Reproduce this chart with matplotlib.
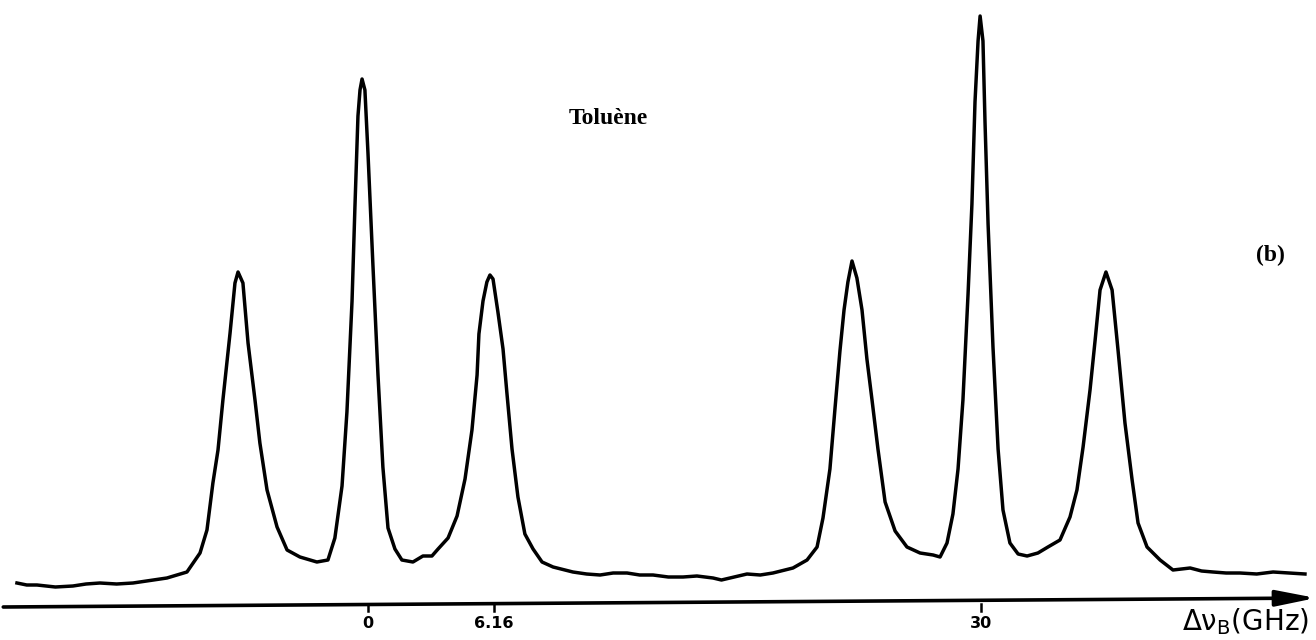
import matplotlib
matplotlib.use('Agg')
import matplotlib.pyplot as plt

# Brillouin spectrum of toluene
freq = [-17.18, -16.70, -16.20, -15.30, -14.44, -13.80, -13.12, -12.30, -11.50,
        -10.52, -9.84, -8.86, -8.22, -7.88, -7.59, -7.34, -7.10, -6.75, -6.51,
        -6.36, -6.12, -5.87, -5.53, -5.29, -4.94, -4.45, -3.96, -3.33, -2.50,
        -1.96, -1.62, -1.27, -1.03, -0.78, -0.64, -0.49, -0.39, -0.29, -0.15,
        0.00, 0.24, 0.49, 0.73, 0.98, 1.32, 1.66, 2.20, 2.69, 3.13, 3.43, 3.92,
        4.36, 4.75, 5.09, 5.34, 5.43, 5.63, 5.82, 5.97, 6.12, 6.36, 6.61, 6.80,
        7.05, 7.34, 7.68, 8.08, 8.52, 9.06, 10.03, 10.70, 11.36, 12.00, 12.68,
        13.30, 13.95, 14.70, 15.42, 16.10, 16.89, 17.30, 17.72, 18.55, 19.20,
        19.82, 20.80, 21.49, 21.98, 22.27, 22.61, 22.86, 23.10, 23.30, 23.49,
        23.69, 23.93, 24.18, 24.42, 24.67, 24.96, 25.31, 25.80, 26.38, 27.02,
        27.66, 28.00, 28.34, 28.63, 28.88, 29.12, 29.37, 29.56, 29.71, 29.86,
        29.96, 30.10, 30.20, 30.35, 30.59, 30.84, 31.08, 31.42, 31.82, 32.26,
        32.79, 33.28, 33.87, 34.36, 34.70, 35.00, 35.34, 35.59, 35.83, 36.12,
        36.42, 36.71, 37.05, 37.40, 37.69, 38.13, 38.77, 39.40, 40.24, 40.80,
        41.36, 42.00, 42.68, 43.50, 44.30, 45.10, 45.86]
intens = [20, 18, 18, 16, 17, 19, 20, 19, 20,
          23, 25, 31, 50, 73, 120, 153, 203, 270, 320,
          331, 320, 260, 203, 160, 113, 76, 53, 46, 41,
          43, 65, 117, 191, 302, 395, 487, 513, 524, 513,
          450, 339, 228, 136, 75, 54, 43, 41, 47, 47, 54, 65,
          87, 124, 173, 228, 269, 302, 321, 328, 324, 291, 254, 210,
          154, 106, 69, 54, 41, 36, 31, 29, 28, 30, 30,
          28, 28, 26, 26, 27, 25, 23, 25, 29, 28,
          30, 35, 43, 56, 85, 134, 195, 252, 293, 321,
          342, 325, 293, 244, 203, 154, 101, 72, 56, 50,
          48, 46, 60, 89, 134, 203, 309, 399, 501, 562,
          587, 562, 481, 379, 256, 154, 93, 60, 49, 47,
          50, 56, 63, 86, 113, 156, 213, 263, 313, 331,
          313, 253, 180, 123, 80, 56, 43, 33, 35, 32,
          31, 30, 30, 29, 31, 30, 29]

tick_pos = [0, 6.16, 30]
tick_lab = ['0', '6.16', '30']

fig = plt.figure(figsize=(13.16, 6.4), dpi=100)
ax = fig.add_axes([0, 0, 1, 1])
ax.set_xlim(-18.01, 46.40)
ax.set_ylim(-37, 603)
ax.set_axis_off()

ax.plot(freq, intens, color='black', lw=2.5, solid_joinstyle='round')

# hand drawn frequency axis with arrow
ax.annotate('', xy=(46.40, 5), xytext=(-17.85, -4),
            arrowprops=dict(arrowstyle='-|>,head_length=2.4,head_width=0.48',
                            lw=2.6, color='black', mutation_scale=10,
                            shrinkA=0, shrinkB=0))
for p, lab in zip(tick_pos, tick_lab):
    ax.plot([p, p], [-1, -8], color='black', lw=1.8)
    ax.text(p, -21, lab, ha='center', va='center', fontsize=11.5,
            fontweight='bold', family='DejaVu Sans')

ax.text(42.93, -19, 'Δν$_\\mathrm{B}$(GHz)', ha='center', va='center',
        fontsize=20, family='DejaVu Sans')
ax.text(11.75, 485, 'Toluène', ha='center', va='center', fontsize=17,
        fontweight='bold', family='Liberation Serif')
ax.text(44.15, 348, '(b)', ha='center', va='center', fontsize=17,
        fontweight='bold', family='Liberation Serif')

fig.savefig('out.png', dpi=100)
